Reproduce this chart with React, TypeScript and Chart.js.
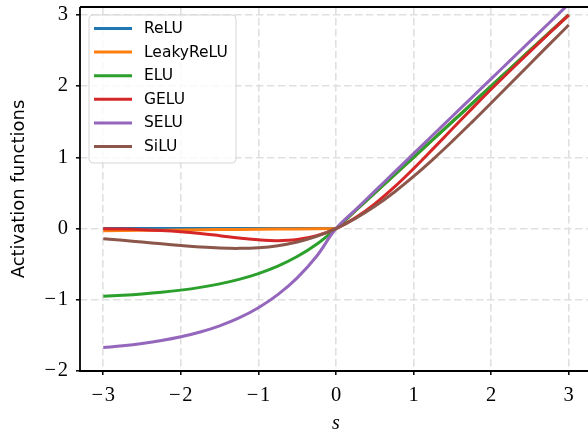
import React, { useEffect, useRef } from "react";
import { Chart, registerables } from "chart.js";

Chart.register(...registerables);

const xs = [-3, -2.75, -2.5, -2.25, -2, -1.75, -1.5, -1.25, -1, -0.75, -0.5, -0.25, 0, 0.25, 0.5, 0.75, 1, 1.25, 1.5, 1.75, 2, 2.25, 2.5, 2.75, 3];

const relu = [0, 0, 0, 0, 0, 0, 0, 0, 0, 0, 0, 0, 0, 0.25, 0.5, 0.75, 1, 1.25, 1.5, 1.75, 2, 2.25, 2.5, 2.75, 3];
const leakyRelu = [-0.03, -0.0275, -0.025, -0.0225, -0.02, -0.0175, -0.015, -0.0125, -0.01, -0.0075, -0.005, -0.0025, 0, 0.25, 0.5, 0.75, 1, 1.25, 1.5, 1.75, 2, 2.25, 2.5, 2.75, 3];
const elu = [-0.9502, -0.9361, -0.9179, -0.8946, -0.8647, -0.8262, -0.7769, -0.7135, -0.6321, -0.5276, -0.3935, -0.2212, 0, 0.25, 0.5, 0.75, 1, 1.25, 1.5, 1.75, 2, 2.25, 2.5, 2.75, 3];
const gelu = [-0.0041, -0.0082, -0.0155, -0.0275, -0.0455, -0.0701, -0.1002, -0.1321, -0.1587, -0.17, -0.1543, -0.1003, 0, 0.1497, 0.3457, 0.58, 0.8413, 1.1179, 1.3998, 1.6799, 1.9545, 2.2225, 2.4845, 2.7418, 2.996];
const selu = [-1.6706, -1.6458, -1.6138, -1.5728, -1.5202, -1.4526, -1.3658, -1.2544, -1.1114, -0.9276, -0.6918, -0.3889, 0, 0.2627, 0.5254, 0.788, 1.0507, 1.3134, 1.5761, 1.8387, 2.1014, 2.3641, 2.6268, 2.8894, 3.1521];
const silu = [-0.1423, -0.1652, -0.1896, -0.2145, -0.2384, -0.2591, -0.2736, -0.2784, -0.2689, -0.2406, -0.1888, -0.1095, 0, 0.1405, 0.3112, 0.5094, 0.7311, 0.9716, 1.2264, 1.4909, 1.7616, 2.0355, 2.3104, 2.5848, 2.8577];

const seriesNames = ["ReLU", "LeakyReLU", "ELU", "GELU", "SELU", "SiLU"];
const seriesValues = [relu, leakyRelu, elu, gelu, selu, silu];
const seriesColors = ["#1f77b4", "#ff7f0e", "#2ca02c", "#d62728", "#9467bd", "#8c564b"];
const piecewiseLinear = [true, true, false, false, false, false];

const xTicks = [-3, -2, -1, 0, 1, 2, 3];
const yTicks = [-2, -1, 0, 1, 2, 3];
const xTitle = "s";
const yTitle = "Activation functions";

const fmt = (v: number) => (v < 0 ? "\u2212\u200A" + Math.abs(v) : String(v));

const framePlugin = {
  id: "frameAndLegend",
  afterDraw(chart: any) {
    const { ctx, chartArea } = chart;
    const { left, right, top, bottom } = chartArea;
    ctx.save();
    ctx.strokeStyle = "#000";
    ctx.lineWidth = 1.8;
    ctx.setLineDash([]);
    ctx.beginPath();
    ctx.moveTo(left, top);
    ctx.lineTo(right, top);
    ctx.moveTo(left, top);
    ctx.lineTo(left, bottom);
    ctx.lineTo(right, bottom);
    ctx.lineTo(right, top);
    ctx.stroke();

    const bx = 89, by = 15, bw = 147, bh = 148, r = 4;
    ctx.beginPath();
    ctx.moveTo(bx + r, by);
    ctx.lineTo(bx + bw - r, by);
    ctx.quadraticCurveTo(bx + bw, by, bx + bw, by + r);
    ctx.lineTo(bx + bw, by + bh - r);
    ctx.quadraticCurveTo(bx + bw, by + bh, bx + bw - r, by + bh);
    ctx.lineTo(bx + r, by + bh);
    ctx.quadraticCurveTo(bx, by + bh, bx, by + bh - r);
    ctx.lineTo(bx, by + r);
    ctx.quadraticCurveTo(bx, by, bx + r, by);
    ctx.closePath();
    ctx.fillStyle = "rgba(255,255,255,0.8)";
    ctx.fill();
    ctx.strokeStyle = "#d6d6d6";
    ctx.lineWidth = 1;
    ctx.stroke();

    ctx.font = "15.5px 'DejaVu Sans'";
    ctx.textBaseline = "middle";
    ctx.textAlign = "left";
    seriesNames.forEach((name, i) => {
      const y = 28.5 + i * 23.6;
      ctx.strokeStyle = seriesColors[i];
      ctx.lineWidth = 3;
      ctx.beginPath();
      ctx.moveTo(94, y);
      ctx.lineTo(132, y);
      ctx.stroke();
      ctx.fillStyle = "#000";
      ctx.fillText(name, 144, y + 0.5);
    });
    ctx.restore();
  },
};

export default function App() {
  const canvasRef = useRef<HTMLCanvasElement | null>(null);

  useEffect(() => {
    const canvas = canvasRef.current;
    if (!canvas) return;
    const datasets = seriesNames.map((name, i) => ({
      label: name,
      data: xs.map((x, j) => ({ x, y: seriesValues[i][j] })),
      borderColor: seriesColors[i],
      backgroundColor: seriesColors[i],
      borderWidth: 3,
      pointRadius: 0,
      fill: false,
      tension: piecewiseLinear[i] ? 0 : 0.4,
      cubicInterpolationMode: "default",
      order: seriesNames.length - 1 - i,
    }));

    const gridCommon = {
      color: "#e0e0e0",
      lineWidth: 1.6,
      tickColor: "#000",
      tickWidth: 1.5,
      tickLength: 4,
      tickBorderDash: [],
      drawTicks: true,
    };

    const chart = new Chart(canvas, {
      type: "line",
      data: { datasets: datasets as any },
      plugins: [framePlugin],
      options: {
        animation: false,
        responsive: false,
        maintainAspectRatio: false,
        layout: { padding: { top: 7, right: 8, left: 0, bottom: 0 } },
        plugins: { legend: { display: false }, tooltip: { enabled: false } },
        scales: {
          x: {
            type: "linear",
            min: -3.3,
            max: 3.3,
            afterBuildTicks: (scale: any) => {
              scale.ticks = xTicks.map((v) => ({ value: v }));
            },
            afterFit: (scale: any) => {
              scale.height = 59;
              scale.paddingLeft = 0;
              scale.paddingRight = 0;
            },
            grid: gridCommon,
            border: { display: false, dash: [7.5, 3.5] },
            ticks: {
              color: "#000",
              padding: 8,
              maxRotation: 0,
              autoSkip: false,
              font: { family: "'Liberation Serif'", size: 20.5 },
              callback: (v: any) => fmt(Number(v)),
            },
            title: {
              display: true,
              text: xTitle,
              color: "#000",
              font: { family: "'Liberation Serif'", size: 20, style: "italic", lineHeight: 1 },
              padding: { top: 0, bottom: -4 },
            },
          },
          y: {
            type: "linear",
            min: -2,
            max: 3.11,
            afterBuildTicks: (scale: any) => {
              scale.ticks = yTicks.map((v) => ({ value: v }));
            },
            afterFit: (scale: any) => {
              scale.width = 80;
              scale.paddingTop = 0;
              scale.paddingBottom = 0;
            },
            grid: gridCommon,
            border: { display: false, dash: [7.5, 3.5] },
            ticks: {
              color: "#000",
              padding: 8,
              autoSkip: false,
              font: { family: "'Liberation Serif'", size: 20.5 },
              callback: (v: any) => fmt(Number(v)),
            },
            title: {
              display: true,
              text: yTitle,
              color: "#000",
              font: { family: "'DejaVu Sans'", size: 18, lineHeight: 1.2 },
              padding: { top: 9, bottom: 0 },
            },
          },
        },
      } as any,
    });
    return () => chart.destroy();
  }, []);

  return (
    <div style={{ position: "absolute", left: 0, top: 0, width: 588, height: 430, overflow: "hidden", background: "#fff" }}>
      <canvas ref={canvasRef} width={600} height={430} style={{ display: "block" }} />
    </div>
  );
}
